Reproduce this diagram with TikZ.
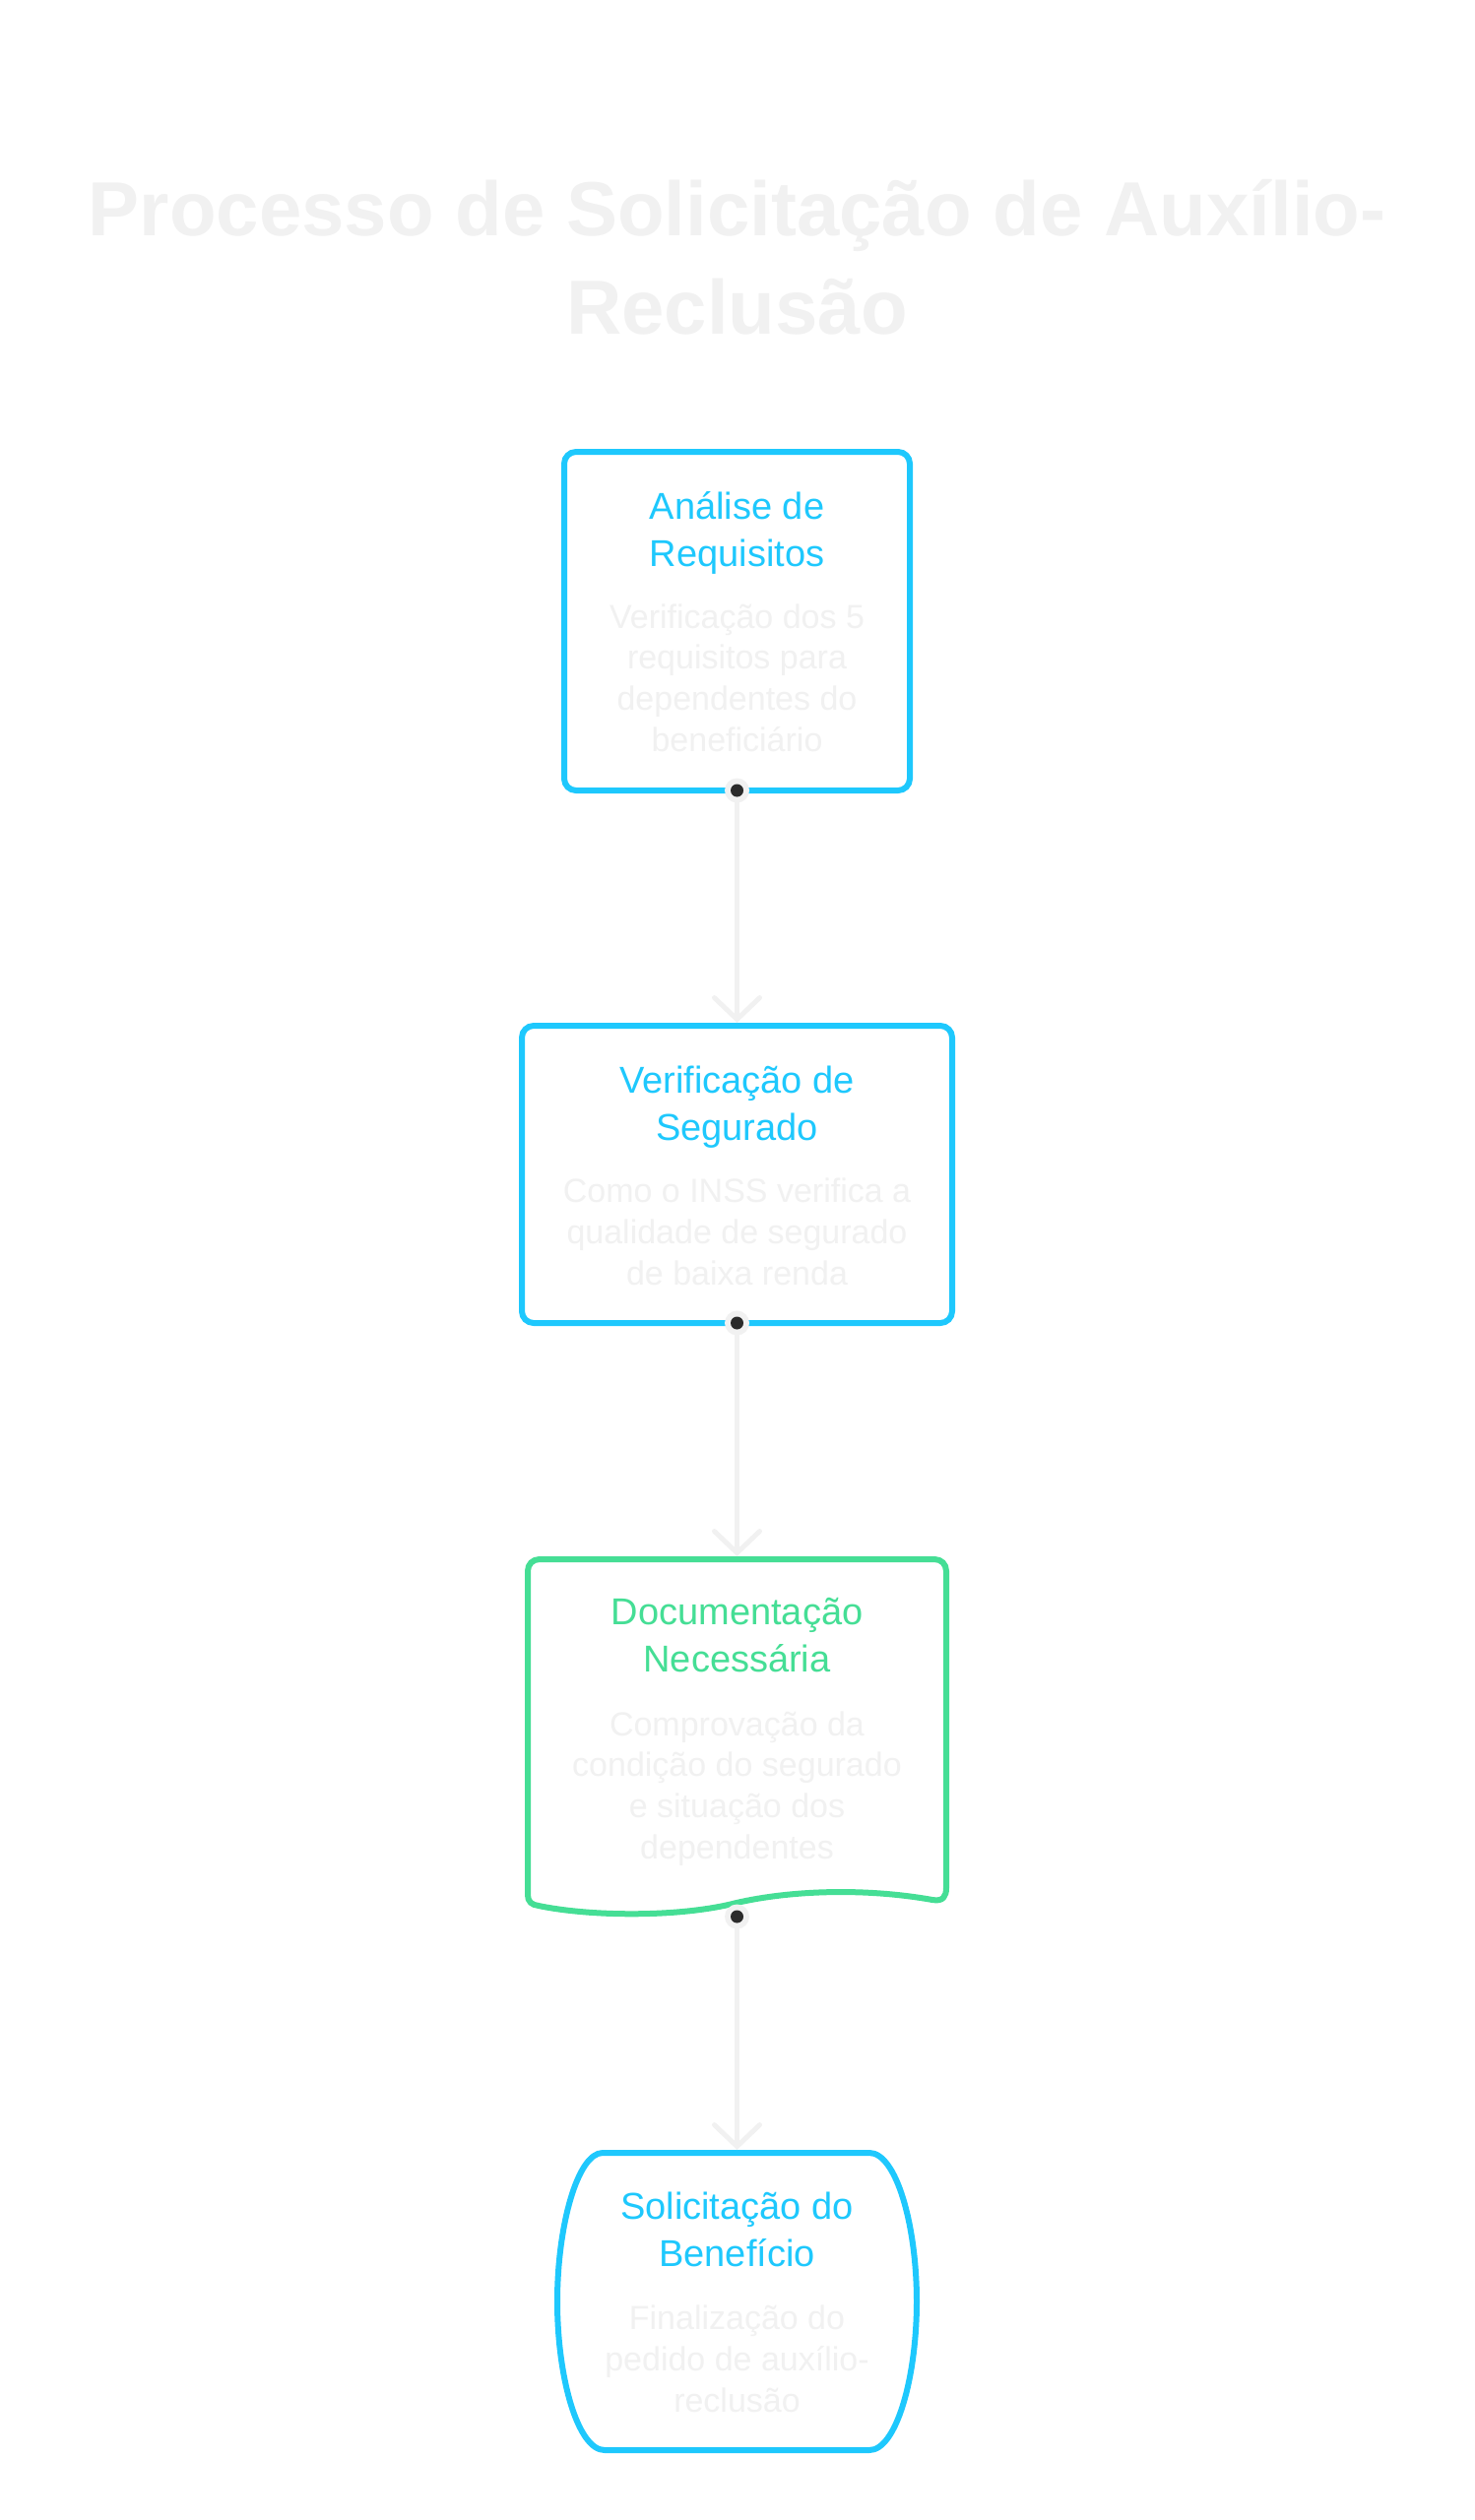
\documentclass[tikz,border=0pt]{standalone}
\usepackage{fontspec}
\setmainfont{Liberation Sans}
\usepackage{tikz}
\usetikzlibrary{positioning,arrows.meta,calc}
\usepackage{xcolor}
\definecolor{stepblue}{HTML}{1EC8FD}
\definecolor{stepgreen}{HTML}{45DE95}
\definecolor{palegray}{HTML}{F1F1F1}
\definecolor{dotdark}{HTML}{2B2B2B}

\begin{document}
\begin{tikzpicture}[x=0.5pt,y=-0.5pt,
  every node/.style={inner sep=0pt,outer sep=0pt},
  stepbox/.style={draw=stepblue,line width=3pt,rounded corners=6pt,fill=white},
  boxtitle/.style={text=stepblue,font=\fontsize{19pt}{24pt}\selectfont,align=center,anchor=base},
  boxdesc/.style={text=palegray,font=\fontsize{17pt}{20.8pt}\selectfont,align=center,anchor=base},
  conn/.style={draw=palegray,line width=2.5pt,shorten >=1.5pt,-{Straight Barb[length=11pt,width=23pt,line cap=round]}}]
\useasboundingbox (0,0) rectangle (1498,2560);
% title
\node[text=palegray,font=\bfseries\fontsize{39pt}{50pt}\selectfont,align=center,anchor=base] (ttl) at (748.5,339) {Processo de Solicitação de Auxílio-\\Reclusão};
% boxes
\node[stepbox,minimum width=175.5pt,minimum height=172pt] (analise) at (748.5,631) {};
\node[stepbox,minimum width=218.5pt,minimum height=151pt] (verif) at (748.5,1193) {};
\draw[stepgreen,line width=3pt,fill=white] (947,1930) .. controls (958,1932) and (961,1926) .. (961,1918) -- (961,1596) .. controls (961,1589) and (956,1584) .. (949,1584) -- (548,1584) .. controls (541,1584) and (536,1589) .. (536,1596) -- (536,1925) .. controls (536,1932) and (540,1935) .. (547,1936) .. controls (600,1947) and (690,1948) .. (748,1933) .. controls (805,1920) and (880,1918) .. (947,1930) -- cycle;
\node[minimum width=212.5pt,minimum height=181.5pt] (docum) at (748.5,1765.5) {};
\draw[stepblue,line width=3pt,fill=white] (612,2187) -- (883,2187) .. controls (910,2187) and (931,2260) .. (931,2338) .. controls (931,2416) and (910,2489) .. (883,2489) -- (614,2489) .. controls (587,2489) and (566,2416) .. (566,2338) .. controls (566,2260) and (587,2187) .. (612,2187) -- cycle;
\node[minimum width=182.5pt,minimum height=151pt] (solic) at (748.5,2338) {};
% texts (anchored at the baseline of the last line)
\node[boxtitle] (analiseT) at (748.5,575) {Análise de\\Requisitos};
\node[boxdesc] (analiseD) at (748.5,763) {Verificação dos 5\\requisitos para\\dependentes do\\beneficiário};
\node[boxtitle] (verifT) at (748.5,1158) {Verificação de\\Segurado};
\node[boxdesc] (verifD) at (748.5,1305) {Como o INSS verifica a\\qualidade de segurado\\de baixa renda};
\node[boxtitle,text=stepgreen] (documT) at (748.5,1698) {Documentação\\Necessária};
\node[boxdesc] (documD) at (748.5,1888) {Comprovação da\\condição do segurado\\e situação dos\\dependentes};
\node[boxtitle] (solicT) at (748.5,2302) {Solicitação do\\Benefício};
\node[boxdesc] (solicD) at (748.5,2450) {Finalização do\\pedido de auxílio-\\reclusão};
% connectors
\draw[conn] (analise.south) -- (verif.north);
\draw[conn] (verif.south) -- (docum.north);
\draw[conn] (docum.south) -- (solic.north);
\foreach \n in {analise,verif,docum}{
  \fill[palegray] (\n.south) circle (6.25pt);
  \fill[dotdark] (\n.south) circle (3.25pt);
}
\end{tikzpicture}
\end{document}
